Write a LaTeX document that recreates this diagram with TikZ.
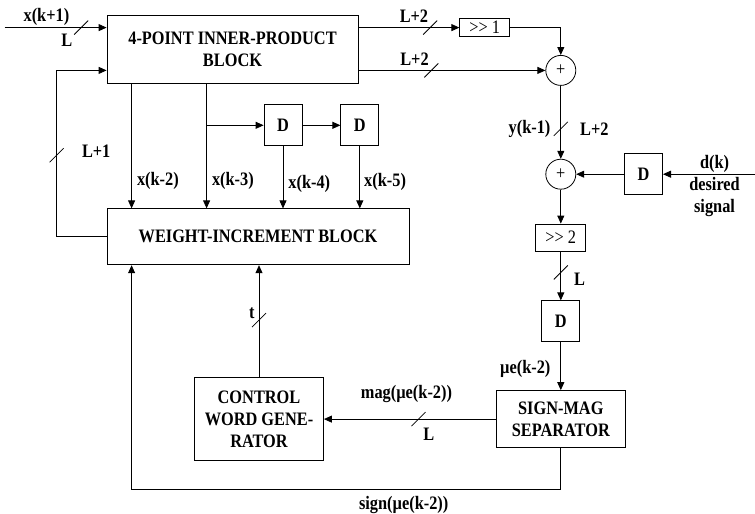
\documentclass[tikz,border=0pt]{standalone}
\usepackage{fontspec}
\setmainfont[FakeStretch=0.86]{Liberation Serif}
\usetikzlibrary{arrows.meta,positioning}

\begin{document}
\begin{tikzpicture}[
    x=1pt, y=-1pt,
    font=\fontsize{19}{22}\selectfont\bfseries,
    box/.style={draw, line width=0.8pt, align=center, inner sep=2pt},
    dbox/.style={box, minimum width=38pt, minimum height=41pt},
    shbox/.style={box, font=\fontsize{19}{22}\selectfont\mdseries, minimum width=50pt, minimum height=18pt},
    sum/.style={draw, circle, line width=0.8pt, minimum size=30pt, inner sep=0pt, font=\fontsize{19}{22}\selectfont\mdseries},
    link/.style={-{Triangle[length=8pt, width=7pt]}, line width=0.8pt},
    lbl/.style={inner sep=2pt},
    cut/.pic={\draw[-, line width=0.8pt] (-7pt,-7pt) -- (7pt,7pt);}
]
\useasboundingbox (0,0) rectangle (755,514);

% main blocks
\node[box, minimum width=251pt, minimum height=68pt] (ip) at (232.5,49) {4-POINT INNER-PRODUCT\\BLOCK};
\node[box, below=125pt of ip.south west, anchor=north west, minimum width=302pt, minimum height=56pt] (wi) {WEIGHT-INCREMENT BLOCK};
\node[dbox, below right=21pt and 157pt of ip.south west] (d1) {D};
\node[dbox, right=38pt of d1] (d2) {D};

\coordinate (ipout) at ([yshift=-13pt]ip.north east);
\coordinate (ipsum) at ([yshift=13pt]ip.south east);
\coordinate (ipin) at ([yshift=-13pt]ip.north west);
\coordinate (ipfb) at ([yshift=13pt]ip.south west);
\coordinate (tap2) at ([xshift=25pt]ip.south west);
\coordinate (tap3) at ([xshift=100pt]ip.south west);
\coordinate[left=102pt of ipin] (xin);
\coordinate[left=50pt of wi.west] (fb);

% right column
\node[shbox, right=101pt of ipout] (sh1) {>{}> 1};
\node[sum, right=187pt of ipsum] (add1) {+};
\node[sum, below=73pt of add1] (add2) {+};
\node[dbox, right=48pt of add2] (d4) {D};
\coordinate[right=94pt of d4] (dk);
\node[lbl, align=center, left=15pt of dk, yshift=-12pt] (dsig) {d(k)\\desired\\signal};
\node[shbox, below=34pt of add2, minimum height=27pt] (sh2) {>{}> 2};
\node[dbox, below=49pt of sh2] (d3) {D};
\node[box, below=48pt of d3, minimum width=129pt, minimum height=57pt] (sm) {SIGN-MAG\\SEPARATOR};
\node[box, left=172pt of sm, minimum width=129pt, minimum height=83pt] (cw) {CONTROL\\WORD GENE-\\RATOR};
\coordinate[below=41pt of sm.south] (sgn);
\coordinate (tap1) at ([xshift=25pt]wi.south west);

% connections
\draw[link] (xin) -- pic[pos=0.75]{cut} node[lbl, pos=0.41, above] (lxin) {x(k+1)} node[lbl, pos=0.61, below=4pt] (lw0) {L} (ipin);
\draw[link] (ipout) -- pic[pos=0.71]{cut} node[lbl, pos=0.55, above=3pt] (lw1) {L+2} (sh1);
\draw[link] (sh1) -| (add1);
\draw[link] (ipsum) -- pic[pos=0.39]{cut} node[lbl, pos=0.30, above=3pt] (lw2) {L+2} (add1);
\draw[link] (add1) -- pic[pos=0.59]{cut} node[lbl, pos=0.59, left=8pt] (ly) {y(k-1)} node[lbl, pos=0.59, right=17pt] (lw3) {L+2} (add2);
\draw[link] (dk) -- (d4);
\draw[link] (d4) -- (add2);
\draw[link] (add2) -- (sh2);
\draw[link] (sh2) -- pic[pos=0.43]{cut} node[lbl, pos=0.57, right=11pt] (lw4) {L} (d3);
\draw[link] (d3) -- node[lbl, pos=0.56, left=8pt] (lmu) {µe(k-2)} (sm);
\draw[link] (sm) -- pic[pos=0.45]{cut} node[lbl, pos=0.52, above=14pt] (lmag) {mag(µe(k-2))} node[lbl, pos=0.39, below=7pt] (lw5) {L} (cw);
\draw[link] (sm) -- (sgn) -| node[lbl, pos=0.183, below=5pt] (lsign) {sign(µe(k-2))} (tap1);
\draw[link] (cw) -- pic[pos=0.51]{cut} node[lbl, pos=0.57, left=2pt] (lt) {t} (cw |- wi.south);
\draw[link] (wi) -- (fb) |- pic[pos=0.245]{cut} node[lbl, pos=0.258, right=23pt] (lw6) {L+1} (ipfb);
\draw[link] (tap2) -- node[lbl, pos=0.78, right=3pt] (lx2) {x(k-2)} (tap2 |- wi.north);
\draw[link] (tap3) -- node[lbl, pos=0.78, right=3pt] (lx3) {x(k-3)} (tap3 |- wi.north);
\draw[link] (tap3 |- d1) -- (d1);
\draw[link] (d1) -- (d2);
\draw[link] (d1) -- node[lbl, pos=0.61, right=3pt] (lx4) {x(k-4)} (d1 |- wi.north);
\draw[link] (d2) -- node[lbl, pos=0.58, right=2pt] (lx5) {x(k-5)} (d2 |- wi.north);
\end{tikzpicture}
\end{document}
